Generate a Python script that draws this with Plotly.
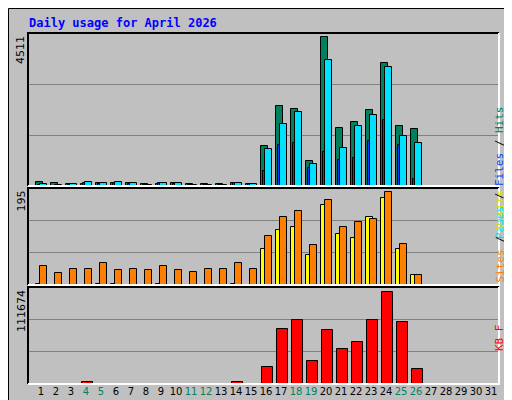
import plotly.graph_objects as go

days = list(range(1, 32))
weekend_days = [4, 5, 11, 12, 18, 19, 25, 26]

hits = [110, 80, 60, 60, 80, 100, 80, 60, 60, 90, 60, 60, 60, 100, 60,
        1210, 2437, 2345, 749, 4511, 1762, 1946, 2314, 3726, 1823, 1731,
        0, 0, 0, 0, 0]
pages = [50, 40, 60, 120, 80, 110, 80, 40, 100, 80, 40, 40, 40, 100, 60,
         1117, 1885, 2253, 657, 3818, 1148, 1823, 2161, 3603, 1516, 1302,
         0, 0, 0, 0, 0]
files = [20, 10, 30, 100, 50, 80, 60, 30, 80, 50, 30, 20, 20, 80, 50,
         467, 1234, 1295, 559, 1019, 774, 835, 1357, 2001, 1234, 221,
         0, 0, 0, 0, 0]
sites = [41, 25, 34, 34, 46, 32, 34, 32, 40, 32, 27, 34, 34, 46, 34,
         104, 144, 155, 85, 178, 123, 132, 138, 195, 87, 21,
         0, 0, 0, 0, 0]
visits = [2, 1, 1, 1, 2, 2, 1, 1, 2, 1, 1, 1, 1, 2, 1,
          75, 115, 121, 64, 168, 108, 98, 142, 184, 75, 21,
          0, 0, 0, 0, 0]
kbytes = [600, 500, 400, 2200, 500, 600, 500, 400, 500, 500, 400, 400, 400, 2000, 500,
          21263, 66478, 77477, 28595, 65254, 42037, 50591, 77477, 111674, 75033, 18819,
          0, 0, 0, 0, 0]

max_hits, max_sites, max_kb = 4511, 195, 111674
top_range, mid_range, bot_range = 4641, 204, 118130

# pixel -> paper helpers (plot area x 20..491, y 25..376)
def px(x):
    return (x - 20) / 471


def py(y):
    return (376 - y) / 351


fig = go.Figure()
line = {"color": "black", "width": 1}


def bars(y, color, offset, width, axis):
    fig.add_trace(go.Bar(x=days, y=y, marker={"color": color, "line": line},
                         offset=offset, width=width, xaxis="x", yaxis=axis,
                         showlegend=False, hoverinfo="y"))


bars(hits, "#00805c", -0.35, 0.5, "y")
bars(pages, "#00e0ff", -0.1, 0.5, "y")
bars(files, "#0040ff", -0.2, 0.13, "y")
bars(visits, "#ffff00", -0.35, 0.5, "y2")
bars(sites, "#ff8000", -0.1, 0.5, "y2")
bars(kbytes, "#ff0000", -0.25, 0.7, "y3")

ticktext = [f"<span style='color:#00805c'>{d}</span>" if d in weekend_days else str(d) for d in days]

grid = {"showgrid": True, "gridcolor": "#808080", "gridwidth": 1,
        "showticklabels": False, "zeroline": False, "ticks": "", "automargin": False}

fig.update_layout(
    width=512, height=400,
    margin={"l": 20, "r": 21, "t": 25, "b": 24, "autoexpand": False},
    paper_bgcolor="#c0c0c0", plot_bgcolor="#c0c0c0",
    barmode="overlay", bargap=0,
    font={"family": "DejaVu Sans", "size": 11, "color": "black"},
    xaxis={"range": [0.13, 31.53], "tickvals": days, "ticktext": ticktext,
           "showgrid": False, "ticks": "", "zeroline": False, "tickangle": 0,
           "automargin": False, "tickfont": {"size": 10}, "anchor": "y3"},
    yaxis={"domain": [py(178), 1], "range": [0, top_range],
           "tickvals": [top_range / 3, top_range * 2 / 3], **grid},
    yaxis2={"domain": [py(277), py(180)], "range": [0, mid_range],
            "tickvals": [mid_range / 3, mid_range * 2 / 3], **grid},
    yaxis3={"domain": [0, py(279)], "range": [0, bot_range],
            "tickvals": [bot_range / 3, bot_range * 2 / 3], **grid},
)

shapes = []
# outer frame and shadow
shapes.append(dict(type="rect", xref="paper", yref="paper", x0=px(0.5), x1=px(511.5),
                   y0=py(399.5), y1=py(0.5), line={"color": "black", "width": 1}))
shapes.append(dict(type="line", xref="paper", yref="paper", x0=px(506), x1=px(506),
                   y0=py(394), y1=py(5), line={"color": "#808080", "width": 3}))
shapes.append(dict(type="line", xref="paper", yref="paper", x0=px(5), x1=px(506),
                   y0=py(394), y1=py(394), line={"color": "#808080", "width": 3}))
# panel bevels
for top, bot in [(25, 178), (180, 277), (279, 376)]:
    shapes.append(dict(type="path", xref="paper", yref="paper",
                       path=f"M {px(20)},{py(bot)} L {px(20)},{py(top)} L {px(491)},{py(top)}",
                       line={"color": "black", "width": 2}))
    shapes.append(dict(type="path", xref="paper", yref="paper",
                       path=f"M {px(20)},{py(bot)} L {px(491)},{py(bot)} L {px(491)},{py(top)}",
                       line={"color": "white", "width": 2}))
fig.update_layout(shapes=shapes)

mono = "DejaVu Sans Mono"
ann = [
    dict(text="<b>Daily usage for April 2026</b>", x=px(19), y=py(15), xanchor="left",
         yanchor="middle", font={"family": mono, "size": 12, "color": "#0000ff"}),
]
for label, top in [(max_hits, 26), (max_sites, 181), (max_kb, 280)]:
    ann.append(dict(text=str(label), x=px(13), y=py(top), textangle=-90, xanchor="center",
                    yanchor="top", font={"size": 11}))
ann.append(dict(text="<span style='color:#00e0ff'>Pages</span> / <span style='color:#0040ff'>Files</span>"
                     " / <span style='color:#00805c'>Hits</span>",
                x=px(500), y=py(96), textangle=-90, font={"family": mono, "size": 11}))
ann.append(dict(text="<span style='color:#ff8000'>Sites</span> / <span style='color:#e0e000'>Visits</span>",
                x=px(500), y=py(228), textangle=-90, font={"family": mono, "size": 11}))
ann.append(dict(text="<span style='color:#ff0000'>KB F</span>",
                x=px(500), y=py(345), textangle=-90, font={"family": mono, "size": 11}))
for a in ann:
    a.update(xref="paper", yref="paper", showarrow=False)
fig.update_layout(annotations=ann)

fig.write_html("out.html")
